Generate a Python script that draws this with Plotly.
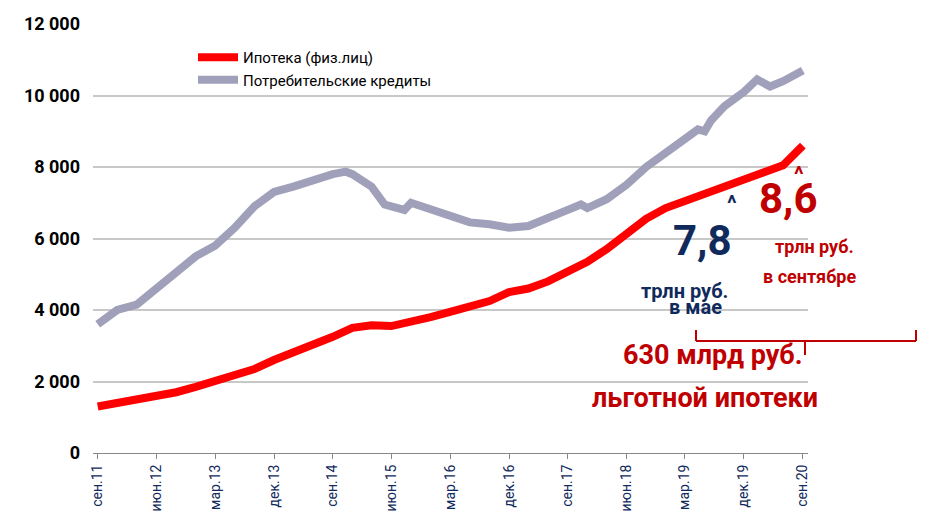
import plotly.graph_objects as go

# Consumer credit, points
cons_dates = ["2011-09", "2011-12", "2012-03", "2012-06", "2012-09", "2012-12", "2013-03", "2013-06",
              "2013-09", "2013-12", "2014-03", "2014-06", "2014-09", "2014-11", "2014-12", "2015-03",
              "2015-05", "2015-07", "2015-08", "2015-09", "2015-12", "2016-03", "2016-06", "2016-09",
              "2016-12", "2017-03", "2017-06", "2017-09", "2017-11", "2017-12", "2018-03", "2018-06",
              "2018-09", "2018-12", "2019-03", "2019-05", "2019-06", "2019-07", "2019-09", "2019-12",
              "2020-02", "2020-04", "2020-06", "2020-09"]
cons_vals = [3600, 4000, 4150, 4600, 5100, 5500, 5800, 6300,
             6900, 7300, 7450, 7650, 7800, 7870, 7800, 7450,
             6950, 6850, 6800, 7000, 6800, 6600, 6450, 6400,
             6300, 6350, 6550, 6800, 6950, 6850, 7100, 7500,
             8000, 8400, 8750, 9050, 9000, 9300, 9700, 10100,
             10450, 10250, 10400, 10700]

mort_dates = ["2011-09", "2011-12", "2012-03", "2012-06", "2012-09", "2012-12", "2013-03", "2013-06",
              "2013-09", "2013-12", "2014-03", "2014-06", "2014-09", "2014-12", "2015-03", "2015-06",
              "2015-09", "2015-12", "2016-03", "2016-06", "2016-09", "2016-12", "2017-03", "2017-06",
              "2017-09", "2017-12", "2018-03", "2018-06", "2018-09", "2018-12", "2019-03", "2019-06",
              "2019-09", "2019-12", "2020-03", "2020-05", "2020-06", "2020-09"]
mort_vals = [1300, 1400, 1480, 1550, 1700, 1850, 2000, 2150,
             2350, 2600, 2800, 3050, 3250, 3500, 3570, 3550,
             3650, 3800, 3950, 4100, 4250, 4500, 4600, 4800,
             5050, 5350, 5700, 6100, 6550, 6850, 7050, 7200,
             7450, 7650, 7850, 7950, 8050, 8600]

tick_dates = ["2011-09-01", "2012-06-01", "2013-03-01", "2013-12-01", "2014-09-01", "2015-06-01",
              "2016-03-01", "2016-12-01", "2017-09-01", "2018-06-01", "2019-03-01", "2019-12-01",
              "2020-09-01"]
tick_labels = ["сен.11", "июн.12", "мар.13", "дек.13", "сен.14", "июн.15", "мар.16", "дек.16",
               "сен.17", "июн.18", "мар.19", "дек.19", "сен.20"]

NAVY = "#102a5c"
RED = "#c00000"

fig = go.Figure()
fig.add_trace(go.Scatter(x=mort_dates, y=mort_vals, mode="lines", name="Ипотека (физ.лиц)",
                         line=dict(color="#ff0000", width=8)))
fig.add_trace(go.Scatter(x=cons_dates, y=cons_vals, mode="lines", name="Потребительские кредиты",
                         line=dict(color="#a0a0ba", width=8)))

L, T, R, B = 85, 16, 144, 81
W, H = 944 - L - R, 526 - T - B


def px(x):
    return (x - L) / W


def py(y):
    return (526 - B - y) / H


def note(x, y, text, size, color):
    fig.add_annotation(x=px(x), y=py(y), xref="paper", yref="paper", text=f"<b>{text}</b>",
                       showarrow=False, font=dict(size=size, color=color, family="Roboto"))


note(731, 195, "^", 22, NAVY)
note(726, 232, "7,8", 42, NAVY)
note(722, 283, "трлн руб.", 20, NAVY)
note(716, 313, "в мае", 20, NAVY)
note(798, 152, "^", 22, RED)
note(812, 190, "8,6", 42, RED)
note(848, 238, "трлн руб.", 18, RED)
note(850, 268, "в сентябре", 18, RED)
note(797, 365, "630 млрд руб.", 27, RED)
note(812, 408, "льготной ипотеки", 27, RED)

# bracket under the notes
br = dict(color=RED, width=2)
for x0, y0, x1, y1 in [(688, 333, 908, 333), (688, 322, 688, 333), (908, 322, 908, 333), (797, 333, 797, 347)]:
    fig.add_shape(type="line", xref="paper", yref="paper", x0=px(x0), y0=py(y0), x1=px(x1), y1=py(y1), line=br)

fig.update_layout(
    width=944, height=526,
    margin=dict(l=L, r=R, t=T, b=B),
    plot_bgcolor="white", paper_bgcolor="white",
    separators=", ",
    font=dict(family="Roboto", color="black"),
    legend=dict(x=px(185), y=py(33), xanchor="left", yanchor="top", bgcolor="rgba(0,0,0,0)",
                font=dict(size=15), itemwidth=40, tracegroupgap=0),
    showlegend=True,
    xaxis=dict(range=["2011-08-10", "2020-09-25"], tickvals=tick_dates, ticktext=tick_labels,
               tickangle=-90, tickfont=dict(size=14, color=NAVY, family="Roboto"),
               showgrid=False, showline=True, linecolor="#888", ticks="outside", ticklen=5,
               tickcolor="#888", automargin=False),
    yaxis=dict(range=[0, 12000], dtick=2000, tickformat=",d", gridcolor="#c8c8c8", gridwidth=1.5,
               tickfont=dict(size=18, color="black", family="Roboto"), zeroline=False,
               ticklabelstandoff=12, automargin=False),
)
fig.update_yaxes(tickprefix="<b>", ticksuffix="</b>")
fig.update_xaxes(tickprefix="<b>", ticksuffix="</b>")

fig.write_html("out.html")
